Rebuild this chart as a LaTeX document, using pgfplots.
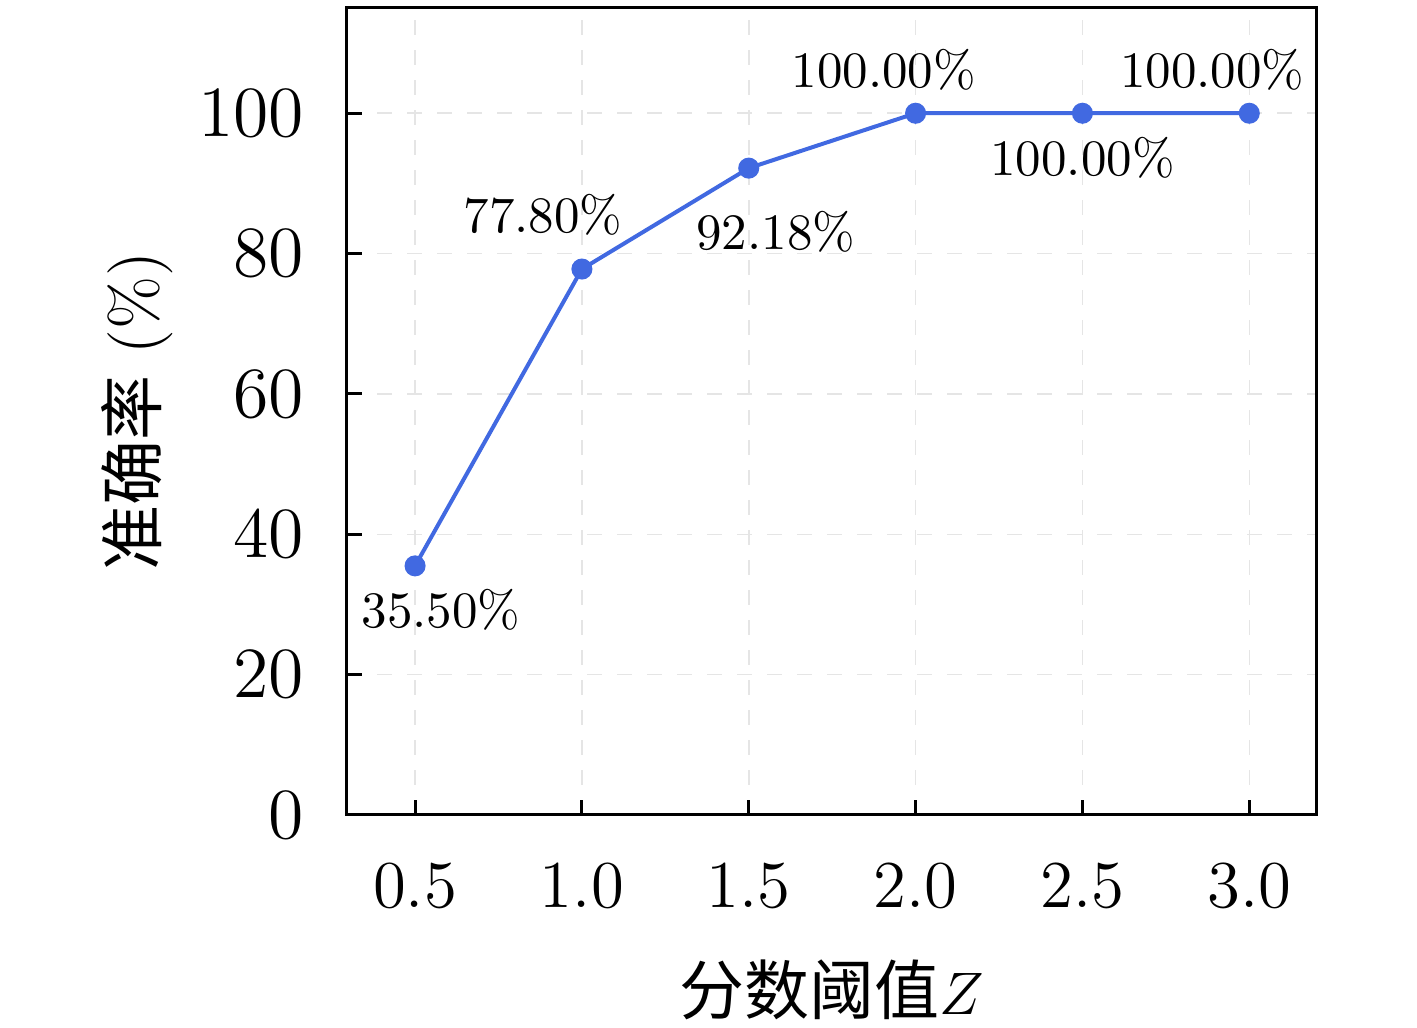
\documentclass[border=0pt]{standalone}
\usepackage{pgfplots}
\pgfplotsset{compat=1.18}
\usepackage{fontspec}
\newfontfamily\cjk{Noto Sans CJK SC}
\definecolor{royalblue}{RGB}{65,105,225}
\begin{document}
\begin{tikzpicture}
\begin{axis}[
  name=ax,
  scale only axis,
  width=193.8pt, height=161.4pt,
  xmin=0.296, xmax=3.2,
  ymin=0, ymax=115,
  xtick={0.5,1.0,1.5,2.0,2.5,3.0},
  xticklabels={0.5,1.0,1.5,2.0,2.5,3.0},
  ytick={0,20,40,60,80,100},
  tick align=inside,
  major tick length=3pt,
  tick style={line width=0.6pt, black},
  axis line style={line width=0.6pt},
  every axis/.append style={line width=0.6pt},
  xtick pos=bottom, ytick pos=left,
  grid=major,
  major grid style={dashed, line width=0.3pt, gray!20},
  xticklabel style={font=\fontsize{13.4}{15}\selectfont, yshift=-6pt},
  yticklabel style={font=\fontsize{14.6}{16}\selectfont, xshift=-5pt},
  xlabel={{\cjk 分数阈值}$Z$},
  ylabel={{\cjk 准确率} (\%)},
  label style={font=\fontsize{13}{15}\selectfont},
  xlabel style={at={(0.5,0)}, anchor=center, yshift=-35pt},
  ylabel style={at={(0,0.5)}, anchor=center, rotate=0, yshift=42pt},
]
\addplot[royalblue, line width=0.8pt, mark=*, mark size=1.7pt, mark options={fill=royalblue, draw=royalblue}]
coordinates {(0.5,35.5) (1.0,77.8) (1.5,92.18) (2.0,100) (2.5,100) (3.0,100)};
\begin{scope}[every node/.style={font=\fontsize{10.2}{12}\selectfont, inner sep=0pt, anchor=center}]
\node[xshift=5.2pt, yshift=-8.8pt] at (axis cs:0.5,35.5) {35.50\%};
\node[xshift=-7.8pt, yshift=10.8pt] at (axis cs:1.0,77.8) {77.80\%};
\node[xshift=5.4pt, yshift=-12.8pt] at (axis cs:1.5,92.18) {92.18\%};
\node[xshift=-6.4pt, yshift=8.6pt] at (axis cs:2.0,100) {100.00\%};
\node[xshift=0pt, yshift=-9pt] at (axis cs:2.5,100) {100.00\%};
\node[xshift=-7.4pt, yshift=8.6pt] at (axis cs:3.0,100) {100.00\%};
\end{scope}
\end{axis}
\pgfresetboundingbox
\path ([shift={(-69.4pt,-42.6pt)}]ax.south west) rectangle ([shift={(20.2pt,1.6pt)}]ax.north east);
\end{tikzpicture}
\end{document}
